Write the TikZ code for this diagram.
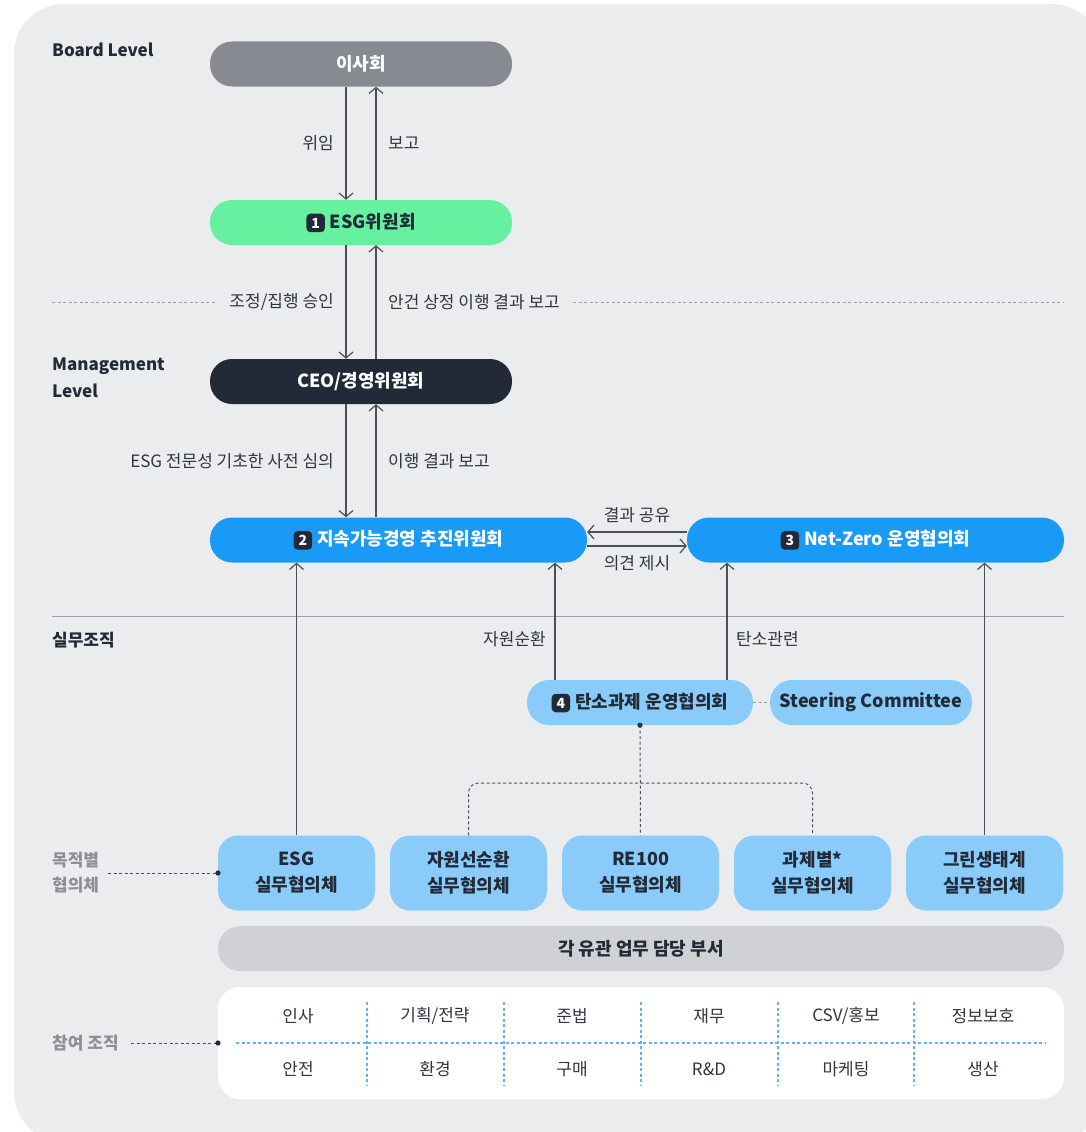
\documentclass[tikz,border=0pt]{standalone}
\usepackage{fontspec}
\setmainfont{Noto Sans CJK KR}
\usetikzlibrary{arrows.meta}
\definecolor{bgc}{HTML}{EBECEE}
\definecolor{boardc}{HTML}{878A90}
\definecolor{greenc}{HTML}{66F0A0}
\definecolor{darkc}{HTML}{212A36}
\definecolor{bluec}{HTML}{1A9AF7}
\definecolor{lightc}{HTML}{8BCBFA}
\definecolor{barc}{HTML}{D0D1D5}
\definecolor{labc}{HTML}{30363F}
\definecolor{graytxt}{HTML}{8C9096}
\definecolor{linec}{HTML}{4C5058}
\definecolor{dashc}{HTML}{9DA0A6}
\definecolor{bdash}{HTML}{5DB5F5}
\newcommand\badge[1]{\tikz[baseline=(bb.base)]\node[fill=darkc,text=white,rounded corners=4pt,minimum size=18.5pt,inner sep=0pt,font=\fontsize{14}{14}\selectfont\bfseries](bb){#1};\hspace{5pt}}
\tikzset{
  pill/.style={rounded corners=22pt, minimum height=45pt, inner sep=0pt, font=\fontsize{18}{21}\selectfont\bfseries},
  wbox/.style={rounded corners=20pt, minimum width=157pt, minimum height=75pt, inner sep=0pt, fill=lightc, text=darkc, align=center, font=\fontsize{18}{26}\selectfont\bfseries},
  lab/.style={font=\fontsize{17}{20}\selectfont, text=labc, inner sep=0pt},
  cell/.style={font=\fontsize{17}{20}\selectfont, text=labc, inner sep=0pt},
  lvl/.style={font=\fontsize{17}{27}\selectfont\bfseries, text=darkc, inner sep=0pt, align=left, anchor=west},
  glvl/.style={font=\fontsize{17}{25}\selectfont\bfseries, text=graytxt, inner sep=0pt, align=left, anchor=west},
  arr/.style={draw=linec, line width=1.2pt, -{Straight Barb[length=6pt,width=14pt]}},
  gdash/.style={draw=dashc, line width=0.9pt, dash pattern=on 3pt off 2.5pt},
  ddash/.style={draw=linec, line width=1pt, dash pattern=on 3pt off 2.5pt},
  bdashed/.style={draw=bdash, line width=1.1pt, dash pattern=on 3pt off 2.5pt},
}
\begin{document}
\begin{tikzpicture}[x=1pt,y=-1pt]
\useasboundingbox (0,0) rectangle (1086,1132);
\fill[bgc, rounded corners=50pt] (14,4) rectangle (1102,1142);

% level labels
\node[lvl] (lb) at (52,50) {Board Level};
\node[lvl] (lm) at (52,378) {Management\\Level};
\node[lvl] (lw) at (52,640) {실무조직};
\node[glvl] (lp) at (52,873) {목적별\\협의체};
\node[glvl] (lq) at (52,1043) {참여 조직};

% separators
\coordinate (s1a) at (52,302);
\coordinate (s1b) at (216,302);
\coordinate (s1c) at (573,302);
\coordinate (s1d) at (1064,302);
\draw[gdash] (s1a) -- (s1b);
\draw[gdash] (s1c) -- (s1d);
\coordinate (s2a) at (52,616);
\coordinate (s2b) at (1064,616);
\draw[draw=dashc, line width=1pt] (s2a) -- (s2b);

% main nodes
\node[pill, fill=boardc, text=white, minimum width=302pt] (board) at (361,64) {이사회};
\node[pill, fill=greenc, text=darkc, minimum width=302pt] (esg) at (361,222.5) {\badge{1}ESG위원회};
\node[pill, fill=darkc, text=white, minimum width=302pt] (ceo) at (361,381.5) {CEO/경영위원회};
\node[pill, fill=bluec, text=white, minimum width=377pt] (sus) at (398.5,540) {\badge{2}지속가능경영 추진위원회};
\node[pill, fill=bluec, text=white, minimum width=377pt] (nz) at (875.5,540) {\badge{3}Net-Zero 운영협의회};
\node[pill, fill=lightc, text=darkc, minimum width=226pt] (carbon) at (640,702.5) {\badge{4}탄소과제 운영협의회};
\node[pill, fill=lightc, text=darkc, minimum width=202pt] (steer) at (871,702.5) {Steering Committee};

% vertical arrows
\draw[arr] ([xshift=-15pt]board.south) -- ([xshift=-15pt]esg.north);
\draw[arr] ([xshift=15pt]esg.north) -- ([xshift=15pt]board.south);
\draw[arr] ([xshift=-15pt]esg.south) -- ([xshift=-15pt]ceo.north);
\draw[arr] ([xshift=15pt]ceo.north) -- ([xshift=15pt]esg.south);
\draw[arr] ([xshift=-15pt]ceo.south) -- ([xshift=-15pt]ceo.south |- sus.north);
\draw[arr] ([xshift=15pt]ceo.south |- sus.north) -- ([xshift=15pt]ceo.south);

\node[lab, anchor=east] (t1) at (334,143) {위임};
\node[lab, anchor=west] (t2) at (388,143) {보고};
\node[lab, anchor=east] (t3) at (334,302) {조정/집행 승인};
\node[lab, anchor=west] (t4) at (388,302) {안건 상정 이행 결과 보고};
\node[lab, anchor=east] (t5) at (334,461) {ESG 전문성 기초한 사전 심의};
\node[lab, anchor=west] (t6) at (388,461) {이행 결과 보고};

% horizontal exchange
\draw[arr] ([yshift=8pt]nz.west) -- ([yshift=8pt]sus.east);
\draw[arr] ([yshift=-6pt]sus.east) -- ([yshift=-6pt]nz.west);
\node[lab] (t7) at (637,515) {결과 공유};
\node[lab] (t8) at (637,563) {의견 제시};

% working boxes
\node[wbox] (w1) at (296.5,873) {ESG\\실무협의체};
\node[wbox] (w2) at (468.5,873) {자원선순환\\실무협의체};
\node[wbox] (w3) at (640.5,873) {RE100\\실무협의체};
\node[wbox] (w4) at (812.5,873) {과제별*\\실무협의체};
\node[wbox] (w5) at (984.5,873) {그린생태계\\실무협의체};

% arrows up
\draw[arr] (w1.north) -- (w1.north |- sus.south);
\draw[arr] (w5.north) -- (w5.north |- nz.south);
\draw[arr] (carbon.north -| 555,0) -- (sus.south -| 555,0);
\draw[arr] (carbon.north -| 727,0) -- (nz.south -| 727,0);
\node[lab, anchor=east] (t9) at (546,639) {자원순환};
\node[lab, anchor=west] (t10) at (736,639) {탄소관련};

% steering link
\draw[gdash] (carbon.east) -- (steer.west);

% dotted tree
\fill[darkc] (carbon.south) circle (2.6pt);
\draw[ddash] (carbon.south) -- (w3.north);
\draw[ddash, rounded corners=10pt] (w2.north) -- (w2.north |- 0,783) -- (w4.north |- 0,783) -- (w4.north);

% department bar
\node[pill, fill=barc, text=darkc, minimum width=846pt] (dept) at (641,948.5) {각 유관 업무 담당 부서};

% participating box
\node[fill=white, rounded corners=22pt, minimum width=846pt, minimum height=112pt, inner sep=0pt] (part) at (641,1043) {};
\coordinate (h1) at (236,1043);
\coordinate (h2) at (1046,1043);
\draw[bdashed] (h1) -- (h2);
\foreach \xx in {367,504,641,778,914} {
  \coordinate (va\xx) at (\xx,1002);
  \coordinate (vb\xx) at (\xx,1085);
  \draw[bdashed] (va\xx) -- (vb\xx);
}
\node[cell] (c11) at (298,1016) {인사};
\node[cell] (c12) at (435,1016) {기획/전략};
\node[cell] (c13) at (572,1016) {준법};
\node[cell] (c14) at (709,1016) {재무};
\node[cell] (c15) at (846,1016) {CSV/홍보};
\node[cell] (c16) at (983,1016) {정보보호};
\node[cell] (c21) at (298,1069) {안전};
\node[cell] (c22) at (435,1069) {환경};
\node[cell] (c23) at (572,1069) {구매};
\node[cell] (c24) at (709,1069) {R\&D};
\node[cell] (c25) at (846,1069) {마케팅};
\node[cell] (c26) at (983,1069) {생산};

% side label leaders
\coordinate (pd) at (218,873);
\coordinate (qd) at (218,1043);
\draw[ddash] (108,873) -- (pd);
\fill[darkc] (pd) circle (2.6pt);
\draw[ddash] (131,1043) -- (qd);
\fill[darkc] (qd) circle (2.6pt);
\end{tikzpicture}
\end{document}
